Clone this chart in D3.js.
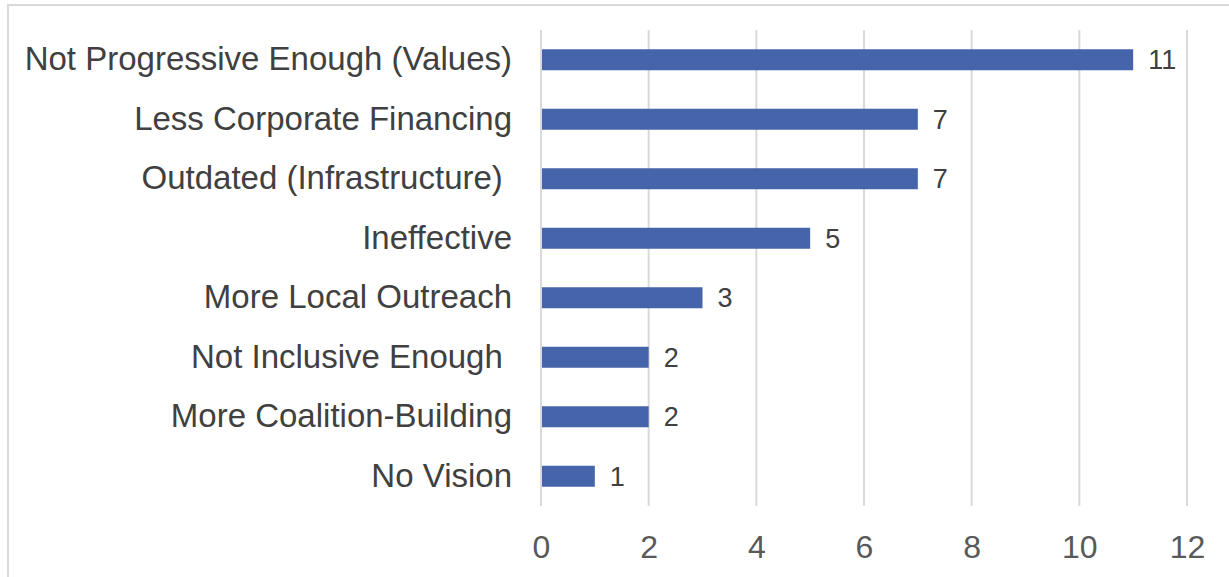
<!DOCTYPE html>
<html>
<head>
<meta charset="utf-8">
<script src="https://cdn.jsdelivr.net/npm/d3@7"></script>
<style>
  body { margin: 0; background: #fff; }
  text { font-family: "Liberation Sans", Arial, sans-serif; white-space: pre; }
</style>
</head>
<body>
<svg id="chart"></svg>
<script>
var categories = [
    "Not Progressive Enough (Values)",
    "Less Corporate Financing",
    "Outdated (Infrastructure) ",
    "Ineffective",
    "More Local Outreach",
    "Not Inclusive Enough ",
    "More Coalition-Building",
    "No Vision"
];
var counts = [11, 7, 7, 5, 3, 2, 2, 1];
var xTicks = [0, 2, 4, 6, 8, 10, 12];

var W = 1229, H = 577;
var margin = {top: 30, right: 42, bottom: 71, left: 541};
var width = W - margin.left - margin.right,
    height = H - margin.top - margin.bottom;

var svg = d3.select("#chart")
    .attr("width", W)
    .attr("height", H);

// outer frame
svg.append("rect")
    .attr("x", 8).attr("y", 5)
    .attr("width", W + 10).attr("height", H + 10)
    .attr("fill", "none")
    .attr("stroke", "#d9d9d9")
    .attr("stroke-width", 2);

var g = svg.append("g")
    .attr("transform", "translate(" + margin.left + "," + margin.top + ")");

var x = d3.scaleLinear().domain([0, 12]).range([0, width]);
var y = d3.scaleBand().domain(categories).range([0, height])
    .paddingInner(0.647).paddingOuter(0.3235);

// gridlines
g.selectAll(".grid")
    .data(xTicks)
    .enter().append("line")
    .attr("x1", function(d) { return x(d); })
    .attr("x2", function(d) { return x(d); })
    .attr("y1", 0)
    .attr("y2", height)
    .attr("stroke", "#d9d9d9")
    .attr("stroke-width", 2);

// bars
g.selectAll(".bar")
    .data(categories)
    .enter().append("rect")
    .attr("x", x(0) + 1)
    .attr("y", function(d) { return y(d); })
    .attr("width", function(d, i) { return x(counts[i]) - x(0) - 1; })
    .attr("height", y.bandwidth())
    .attr("fill", "#4664aa");

// value labels
g.selectAll(".val")
    .data(categories)
    .enter().append("text")
    .attr("x", function(d, i) { return x(counts[i]) + 15; })
    .attr("y", function(d) { return y(d) + y.bandwidth() / 2; })
    .attr("dy", "0.36em")
    .attr("fill", "#404040")
    .style("font-size", "27px")
    .text(function(d, i) { return counts[i]; });

// category labels
var yAxis = g.append("g")
    .call(d3.axisLeft(y).tickSize(0).tickPadding(29));
yAxis.select(".domain").remove();
yAxis.selectAll("text")
    .attr("fill", "#404040")
    .style("font-size", "33px")
    .style("font-family", "'Liberation Sans', Arial, sans-serif");

// x axis
var xAxis = g.append("g")
    .attr("transform", "translate(0," + height + ")")
    .call(d3.axisBottom(x).tickValues(xTicks).tickSize(0).tickPadding(29));
xAxis.select(".domain").remove();
xAxis.selectAll("text")
    .attr("fill", "#595959")
    .style("font-size", "32px")
    .style("font-family", "'Liberation Sans', Arial, sans-serif");
</script>
</body>
</html>
